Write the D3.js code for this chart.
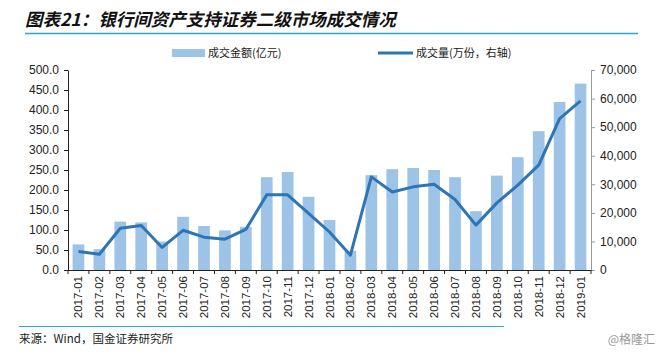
<!DOCTYPE html>
<html><head><meta charset="utf-8">
<script src="https://cdn.jsdelivr.net/npm/d3@7"></script>
<style>body{margin:0;background:#fff}svg{display:block}</style>
</head><body>
<svg id="c" width="663" height="355"></svg>
<script>
const categories = ["2017-01","2017-02","2017-03","2017-04","2017-05","2017-06","2017-07","2017-08","2017-09","2017-10","2017-11","2017-12","2018-01","2018-02","2018-03","2018-04","2018-05","2018-06","2018-07","2018-08","2018-09","2018-10","2018-11","2018-12","2019-01"];
const amount = [64,52,121,119,71,133,110,99,108,232,245,183,125,48,237,252,255,250,232,147,236,282,347,420,466];
const volume = [6500,5500,14600,15600,7900,13900,11500,10800,14200,26300,26300,19800,13300,5200,32600,27300,29100,30000,24700,15700,23500,29700,36700,53000,59200];
const leftTicks = [0,50,100,150,200,250,300,350,400,450,500];
const rightTicks = [0,10000,20000,30000,40000,50000,60000,70000];
const title = "图表21：银行间资产支持证券二级市场成交情况";
const legendBar = "成交金额(亿元)";
const legendLine = "成交量(万份，右轴)";
const source = "来源：Wind，国金证券研究所";
const watermark = "@格隆汇";

const svg = d3.select("#c");
const L = 68, R = 591, T = 70, B = 270;
const barColor = "#9dc3e6", lineColor = "#2e75b6", teal = "#2aa7c9";
const font = "Arial, 'Liberation Sans', sans-serif";
const cjk = "'Noto Sans CJK SC', sans-serif";

const x = d3.scaleBand().domain(categories).range([L, R]).paddingInner(0.44).paddingOuter(0.22);
const yL = d3.scaleLinear().domain([0, 500]).range([B, T]);
const yR = d3.scaleLinear().domain([0, 70000]).range([B, T]);

// title
svg.append("text").attr("x", 25).attr("y", 26).text(title)
  .attr("font-family", cjk).attr("font-size", 17.5).attr("font-weight", "bold")
  .attr("font-style", "italic").attr("fill", "#111");
svg.append("line").attr("x1", 25).attr("x2", 638).attr("y1", 33.5).attr("y2", 33.5)
  .attr("stroke", teal).attr("stroke-width", 1.3);

// bars
svg.append("g").selectAll("rect").data(categories).join("rect")
  .attr("x", d => x(d)).attr("width", x.bandwidth())
  .attr("y", (d, i) => yL(amount[i])).attr("height", (d, i) => B - yL(amount[i]))
  .attr("fill", barColor);

// line
const line = d3.line().x((d, i) => x(categories[i]) + x.bandwidth() / 2).y(d => yR(d));
svg.append("path").datum(volume).attr("d", line).attr("fill", "none")
  .attr("stroke", lineColor).attr("stroke-width", 3).attr("stroke-linejoin", "round");

// left axis
const gl = svg.append("g").attr("transform", `translate(${L},0)`)
  .call(d3.axisLeft(yL).tickValues(leftTicks).tickFormat(d3.format(".1f")).tickSize(4).tickSizeOuter(0));
gl.select(".domain").attr("stroke", "#222");
gl.selectAll(".tick line").attr("stroke", "#222");
gl.selectAll("text").attr("font-family", font).attr("font-size", 12).attr("fill", "#222").attr("dx", -2);

// right axis
const gr = svg.append("g").attr("transform", `translate(${R},0)`)
  .call(d3.axisRight(yR).tickValues(rightTicks).tickFormat(d3.format(",")).tickSize(4).tickSizeOuter(0));
gr.select(".domain").attr("stroke", "#999");
gr.selectAll(".tick line").attr("stroke", "#999");
gr.selectAll("text").attr("font-family", font).attr("font-size", 12).attr("fill", "#222").attr("dx", 2);

// x axis
svg.append("line").attr("x1", L).attr("x2", R).attr("y1", B + 0.5).attr("y2", B + 0.5).attr("stroke", "#222");
const step = x.step();
const boundaries = d3.range(categories.length + 1).map(i => L + i * (R - L) / categories.length);
svg.append("g").selectAll("line").data(boundaries).join("line")
  .attr("x1", d => d).attr("x2", d => d).attr("y1", B).attr("y2", B + 4).attr("stroke", "#222");
svg.append("g").selectAll("text").data(categories).join("text")
  .attr("transform", d => `translate(${x(d) + x.bandwidth() / 2 + 4},${B + 6}) rotate(-90)`)
  .attr("text-anchor", "end").text(d => d)
  .attr("font-family", font).attr("font-size", 11.5).attr("fill", "#222");

// legend
svg.append("rect").attr("x", 172).attr("y", 49).attr("width", 33).attr("height", 8).attr("fill", barColor);
svg.append("text").attr("x", 208).attr("y", 57).text(legendBar)
  .attr("font-family", cjk).attr("font-size", 11).attr("fill", "#222");
svg.append("line").attr("x1", 378).attr("x2", 413).attr("y1", 53).attr("y2", 53)
  .attr("stroke", lineColor).attr("stroke-width", 3);
svg.append("text").attr("x", 416).attr("y", 57).text(legendLine)
  .attr("font-family", cjk).attr("font-size", 11).attr("fill", "#222");

// footer
svg.append("line").attr("x1", 19).attr("x2", 504).attr("y1", 326.5).attr("y2", 326.5)
  .attr("stroke", teal).attr("stroke-width", 1.2);
svg.append("text").attr("x", 19).attr("y", 343).text(source)
  .attr("font-family", cjk).attr("font-size", 11.5).attr("fill", "#222");
svg.append("text").attr("x", 655).attr("y", 344).attr("text-anchor", "end").text(watermark)
  .attr("font-family", cjk).attr("font-size", 12).attr("fill", "#999");
</script>
</body></html>
